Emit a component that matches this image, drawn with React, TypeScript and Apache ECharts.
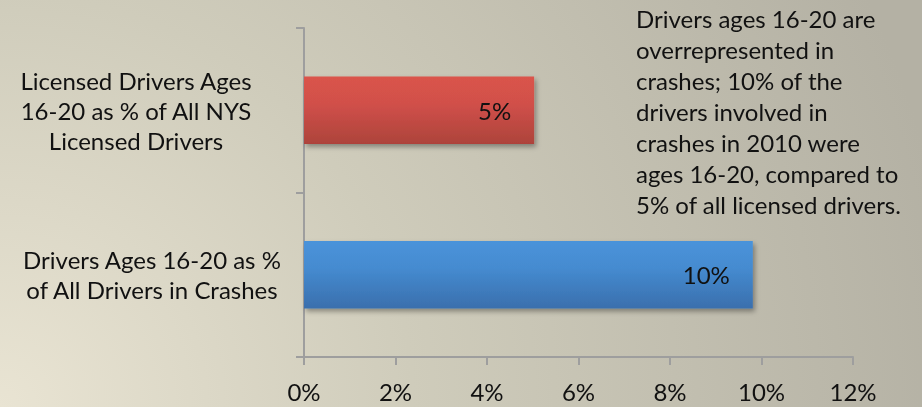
import React, { useEffect, useRef } from "react";
import * as echarts from "echarts";

const categories = [
  "Licensed Drivers Ages\n16-20 as % of All NYS\nLicensed Drivers",
  "Drivers Ages 16-20 as %\nof All Drivers in Crashes",
];
const values = [5.03, 9.81];
const valueLabels = ["5%", "10%"];
const xTicks = [0, 2, 4, 6, 8, 10, 12];
const note =
  "Drivers ages 16-20 are\noverrepresented in\ncrashes; 10% of the\ndrivers involved in\ncrashes in 2010 were\nages 16-20, compared to\n5% of all licensed drivers.";

const FONT = "Lato";

export default function App() {
  const ref = useRef<HTMLDivElement>(null);
  useEffect(() => {
    if (!ref.current) return;
    const chart = echarts.init(ref.current, null, { renderer: "svg" });
    const barColors = [
      new echarts.graphic.LinearGradient(0, 0, 0, 1, [
        { offset: 0, color: "#da544b" },
        { offset: 0.4, color: "#d1504a" },
        { offset: 1, color: "#ad433b" },
      ]),
      new echarts.graphic.LinearGradient(0, 0, 0, 1, [
        { offset: 0, color: "#4a93da" },
        { offset: 0.4, color: "#458bd0" },
        { offset: 1, color: "#3a6fad" },
      ]),
    ];
    chart.setOption({
      animation: false,
      backgroundColor: new echarts.graphic.RadialGradient(
        0,
        407,
        960,
        [
          { offset: 0, color: "#e9e4d3" },
          { offset: 0.43, color: "#cfccbb" },
          { offset: 1, color: "#b4b1a4" },
        ],
        true
      ),
      textStyle: { fontFamily: FONT },
      grid: {
        left: 304,
        right: 69,
        top: 28,
        bottom: 50,
        containLabel: false,
        outerBoundsMode: "none",
      },
      xAxis: {
        type: "value",
        min: 0,
        max: 12,
        interval: 2,
        splitLine: { show: false },
        axisLine: { show: true, lineStyle: { color: "#9e9e9e", width: 2 } },
        axisTick: { show: true, length: 8, lineStyle: { color: "#9e9e9e", width: 2 } },
        axisLabel: {
          margin: 22,
          fontSize: 24,
          fontFamily: FONT,
          color: "#111",
          formatter: (v: number) => (xTicks.includes(v) ? `${v}%` : ""),
        },
      },
      yAxis: {
        type: "category",
        inverse: true,
        data: categories,
        axisLine: { show: true, lineStyle: { color: "#9e9e9e", width: 2 } },
        axisTick: { show: true, length: 8, lineStyle: { color: "#9e9e9e", width: 2 } },
        axisLabel: {
          margin: 24,
          align: "right",
          fontSize: 24,
          lineHeight: 30,
          fontFamily: FONT,
          color: "#111",
          formatter: (v: string) => {
            const key = v === categories[0] ? "a" : "b";
            return v
              .split("\n")
              .map((line) => `{${key}|${line}}`)
              .join("\n");
          },
          rich: {
            a: {
              width: 288,
              align: "center",
              fontSize: 24,
              lineHeight: 30,
              fontFamily: FONT,
              color: "#111",
            },
            b: {
              width: 256,
              align: "center",
              fontSize: 24,
              lineHeight: 30,
              fontFamily: FONT,
              color: "#111",
            },
          },
        },
      },
      series: [
        {
          type: "bar",
          barCategoryGap: "59%",
          data: values.map((v, i) => ({
            value: v,
            itemStyle: {
              color: barColors[i],
              shadowColor: "rgba(0,0,0,0.35)",
              shadowBlur: 5,
              shadowOffsetX: 2,
              shadowOffsetY: 3,
            },
          })),
          label: {
            show: true,
            position: "insideRight",
            distance: 23,
            fontSize: 24,
            fontFamily: FONT,
            color: "#111",
            formatter: (p: any) => valueLabels[p.dataIndex],
          },
        },
      ],
      graphic: [
        {
          type: "text",
          left: 636,
          top: 3,
          style: {
            text: note,
            fontSize: 24,
            lineHeight: 31,
            fontFamily: FONT,
            fill: "#111",
          },
        },
      ],
    });
    return () => chart.dispose();
  }, []);
  return (
    <div
      ref={ref}
      style={{ position: "fixed", left: 0, top: 0, width: 922, height: 407 }}
    />
  );
}
